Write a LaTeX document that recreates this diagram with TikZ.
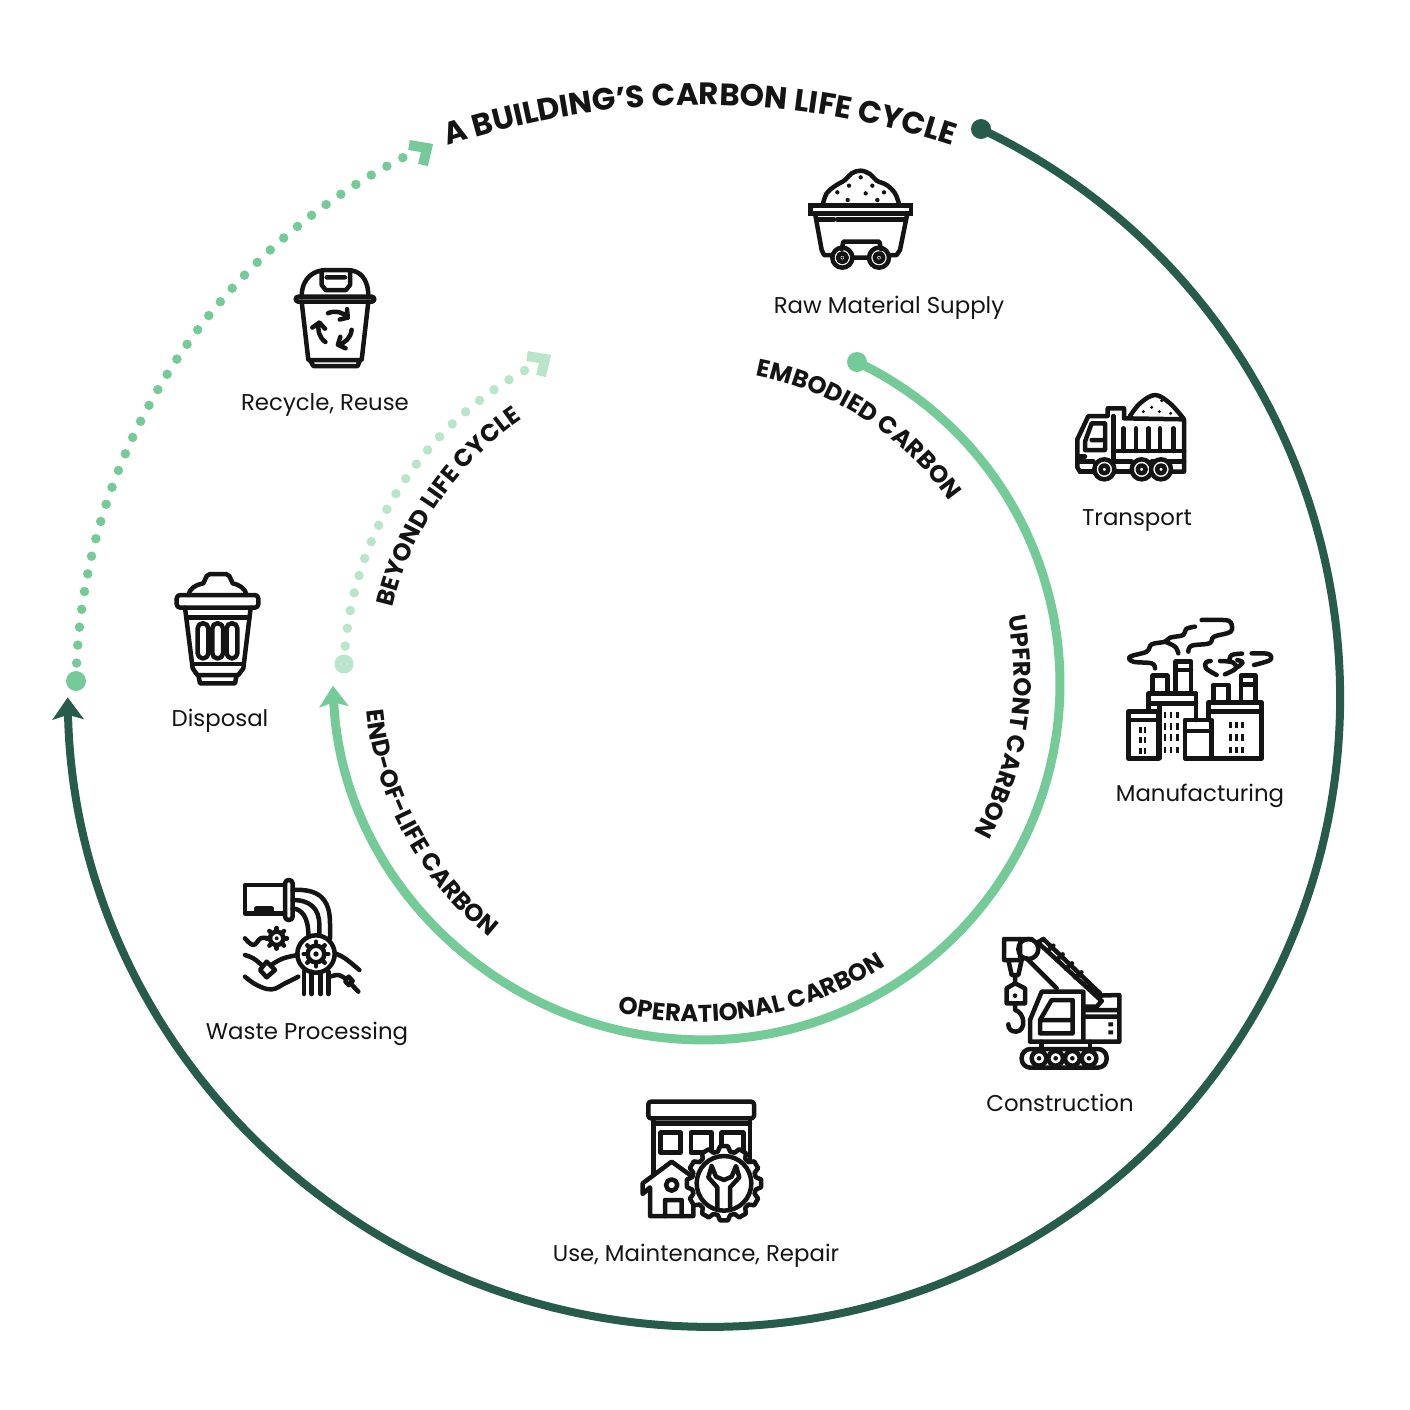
\documentclass[tikz,border=0pt]{standalone}
\usepackage{fontspec}
\setmainfont{Poppins}
\usepackage{tikz}
\usetikzlibrary{arrows.meta,decorations.text}
\definecolor{Rdark}{HTML}{275C4C}
\definecolor{Rmid}{HTML}{74CB98}
\definecolor{Rpale}{HTML}{B9E5CB}
\definecolor{Iline}{HTML}{141414}
\newcommand{\labfont}{\fontsize{13pt}{16pt}\selectfont}
\newcommand{\titlefont}{\fontsize{17.6pt}{20pt}\selectfont\bfseries}
\newcommand{\ringfont}{\fontsize{13.8pt}{16pt}\selectfont\bfseries}
\tikzset{
  lab/.style={inner sep=0pt,text=Iline,font=\labfont},
  icon/.style={shift={#1},scale=1/3,line width=0.09cm,draw=Iline,line join=round,line cap=round},
  speck/.style={fill=Iline,draw=none},
  dots/.style={line width=#1,line cap=round,dash pattern=on 0pt off 0.36cm},
  chevron/.style={line width=0.2cm,line cap=butt,line join=miter},
  curved/.style={decorate,decoration={text along path,text align=center,text color=Iline,text={#1}}}
}
\begin{document}
\begin{tikzpicture}[x=0.02cm,y=-0.02cm]
\useasboundingbox (0,0) rectangle (1410,1410);

% ---- outer run: the whole life cycle ----
\draw[Rdark,line width=0.16cm,-{Stealth[length=0.44cm,width=0.62cm,inset=0.09cm]}]
  (981,129) arc[start angle=-64.55, end angle=90, radius=629.5]
  arc[start angle=90, end angle=178.8, radius=643];
\fill[Rdark] (981,129) circle[radius=10];
\fill[Rmid] (76,681) circle[radius=10];
\draw[Rmid,dots=0.19cm] (76,681) arc[start angle=181.1, end angle=243.1, radius=601];
\draw[Rmid,chevron] (409,145) -- (427,148) -- (423,165);

% ---- inner run ----
\draw[Rmid,line width=0.18cm,-{Stealth[length=0.42cm,width=0.58cm,inset=0.09cm]}]
  (857,362) arc[start angle=-64.5, end angle=90, radius=356.3]
  arc[start angle=90, end angle=177.4, radius=371];
\fill[Rmid] (857,362) circle[radius=10];
\fill[Rpale] (344,664) circle[radius=9.5];
\draw[Rpale,dots=0.19cm] (344,664) arc[start angle=182.3, end angle=241.2, radius=352];
\draw[Rpale,chevron] (527,356) -- (545,359) -- (541,376);

% ---- curved headings ----
\path[curved={|\titlefont|A BUILDING’S CARBON LIFE CYCLE}] (700,905) ++(245:800) arc[start angle=245, end angle=295, radius=800];
\begin{scope}[shift={(697,678)}]
\path[curved={|\ringfont|EMBODIED CARBON}] (262:308) arc[start angle=262, end angle=344, radius=308];
\path[curved={|\ringfont|UPFRONT CARBON}] (-32:317) arc[start angle=-32, end angle=50, radius=317];
\path[curved={|\ringfont|BEYOND LIFE CYCLE}] (174:312) arc[start angle=174, end angle=255, radius=312];
\path[curved={|\ringfont|OPERATIONAL CARBON}] (120:344) arc[start angle=120, end angle=40, radius=344];
\path[curved={|\ringfont|END-OF-LIFE CARBON}] (192:332) arc[start angle=192, end angle=111, radius=332];
\end{scope}

% ---- labels ----
\foreach \n/\x/\y/\l in {raw/889/308/{Raw Material Supply}, transport/1137/521/{Transport},
    manufacturing/1200/796/{Manufacturing}, construction/1060/1103/{Construction},
    use/696/1256/{Use, Maintenance, Repair}, waste/307/1034/{Waste Processing},
    disposal/220/721/{Disposal}, recycle/325/405/{Recycle, Reuse}}{
  \node[lab] (\n) at (\x,\y) {\l};}

% ---- cart ----
\begin{scope}[icon={(780,150)}]
\draw plot[smooth,tension=0.6] coordinates {(128,165) (140,130) (165,108) (195,90) (215,70) (242,62) (270,72) (290,92) (320,105) (345,130) (358,165)};
\draw[line join=miter] (92,167) rectangle (393,190);
\draw (110,208) -- (162,208) (172,208) -- (375,208);
\draw (105,190) -- (125,300) -- (132,315) -- (158,315) (382,190) -- (360,300) -- (350,315) -- (328,315);
\draw (185,298) -- (190,275) -- (298,275) -- (303,298) (218,323) -- (265,323);
\foreach \x in {187,297}{
  \draw (\x,323) circle[radius=30] (\x,323) circle[radius=13];
  \fill[speck] (\x,323) circle[radius=4];}
\foreach \x/\y in {242/82,207/107,277/107,172/127,257/130,312/127,203/150,292/150}{
  \fill[speck] (\x,\y) circle[radius=6.5];}
\end{scope}

% ---- truck ----
\begin{scope}[icon={(1060,380)}]
\draw (60,275) -- (52,262) -- (52,178) -- (85,108) -- (143,108) -- (143,85) -- (192,85) -- (192,115) -- (372,118) -- (372,275) -- (338,275);
\draw (160,108) -- (160,245) (160,213) -- (372,213) (60,245) -- (100,245) (165,245) -- (215,245) (275,245) -- (372,245);
\draw (60,275) -- (100,275) (165,275) -- (215,275);
\draw (115,130) -- (95,130) -- (75,185) -- (75,210) -- (135,210) -- (135,130) -- cycle (95,180) -- (125,180);
\draw (52,230) -- (75,230);
\foreach \x in {190,228,265,300,340}{\draw (\x,145) -- (\x,213);}
\foreach \x in {133,245,303}{\draw[fill=white] (\x,268) circle[radius=30] (\x,268) circle[radius=12];}
\draw plot[smooth,tension=0.6] coordinates {(210,108) (240,70) (285,45) (330,70) (370,115)};
\foreach \x/\y in {250/95,275/82,298/95,332/100,305/62}{\fill[speck] (\x,\y) circle[radius=5];}
\end{scope}

% ---- factory ----
\begin{scope}[icon={(1110,605)}]
\draw (55,320) rectangle (145,460) (55,345) -- (145,345);
\draw (115,320) -- (115,265) -- (258,265) -- (258,345) (115,295) -- (258,295);
\draw (148,295) -- (148,460) (225,345) rectangle (305,460) (225,378) -- (305,378);
\draw (295,345) -- (295,292) -- (455,292) -- (455,460) -- (305,460) (295,320) -- (455,320);
\draw (128,265) -- (128,212) -- (172,212) -- (172,265);
\draw (197,265) -- (197,170) -- (243,170) -- (243,265) (197,195) -- (243,195);
\draw (310,292) -- (310,240) -- (355,240) -- (355,292);
\draw (393,292) -- (393,212) -- (437,212) -- (437,292) (393,238) -- (437,238);
\draw plot[smooth,tension=0.6] coordinates {(135,190) (125,175) (70,170) (60,155) (110,140) (125,118) (165,110) (180,98) (220,90) (228,72) (255,65)};
\draw plot[smooth,tension=0.6] coordinates {(205,145) (195,125) (165,110)};
\draw plot[smooth,tension=0.6] coordinates {(235,140) (245,122) (298,115) (312,95) (362,80) (362,52) (340,45) (275,45)};
\draw plot[smooth,tension=0.6] coordinates {(320,210) (288,190) (288,172) (302,168)};
\draw plot[smooth,tension=0.6] coordinates {(345,208) (378,190) (368,172) (330,168)};
\draw plot[smooth,tension=0.6] coordinates {(358,168) (365,150) (396,146)};
\draw plot[smooth,tension=0.6] coordinates {(385,185) (398,172) (382,165)};
\draw plot[smooth,tension=0.6] coordinates {(425,145) (475,147) (480,165) (432,180)};
\foreach \x/\y in {92/375,105/375,92/405,105/405,92/438,105/438,
    165/330,183/330,203/330,165/365,183/365,203/365,165/398,183/398,203/398,165/435,183/435,203/435,
    362/360,380/360,398/360,362/398,380/398,398/398,362/435,380/435,398/435}{
  \fill[speck] (\x-4,\y-10) rectangle (\x+4,\y+10);}
\end{scope}

% ---- crane ----
\begin{scope}[icon={(990,925)}]
\draw (42,105) -- (42,42) -- (125,42) (42,105) -- (95,105) -- (85,150) -- (65,150) -- (55,105);
\draw (90,42) -- (90,105) (115,72) circle[radius=30];
\draw (143,52) -- (335,228) (110,100) -- (200,190) (160,42) -- (330,205);
\draw (143,52) -- (160,42) (172,78) -- (190,62) (200,105) -- (218,88) (228,132) -- (246,115) (256,158) -- (274,142);
\draw (75,150) -- (75,175) (50,190) -- (75,175) -- (105,190) -- (105,235) -- (50,235) -- cycle;
\fill[speck] (75,212) circle[radius=7];
\draw (75,235) -- (75,255) .. controls (105,262) and (110,318) .. (78,320) .. controls (62,320) and (55,310) .. (55,298);
\draw (120,345) -- (120,285) -- (155,200) -- (280,200) -- (280,345);
\draw (185,225) -- (248,225) -- (248,325) -- (150,325) -- (150,285) -- cycle (150,285) -- (248,285);
\draw (320,212) -- (388,210) -- (388,350) -- (120,350) (280,245) -- (320,245) (280,255) -- (388,255) (280,275) -- (388,275) (335,228) -- (320,245);
\fill[speck] (355,292) rectangle (369,304) (355,316) rectangle (369,328);
\draw (155,350) -- (155,372) (300,350) -- (300,372);
\draw[rounded corners=5pt] (95,372) rectangle (350,428);
\foreach \x in {147,197,247,297}{
  \draw (\x,400) circle[radius=22];
  \fill[speck] (\x,400) circle[radius=7];}
\end{scope}

% ---- building and gear ----
\begin{scope}[icon={(630,1090)}]
\draw[rounded corners=1.5pt] (55,35) rectangle (372,85);
\draw (70,85) -- (70,250) (360,85) -- (360,210) (70,100) -- (360,100);
\draw (92,128) rectangle (152,188) (183,128) rectangle (245,188) (275,128) rectangle (340,188);
\draw[fill=white] (38,312) -- (38,280) -- (125,215) -- (190,262) -- (190,378) -- (60,378) -- (60,292) -- cycle;
\draw (125,285) circle[radius=17] (105,378) -- (105,330) -- (155,330) -- (155,378);
\draw[fill=white] (282,280) ++(6:112)
  \foreach \a in {0,30,...,330}{ -- ({282+112*cos(\a+6)},{280+112*sin(\a+6)}) -- ({282+97*cos(\a+11)},{280+97*sin(\a+11)}) -- ({282+97*cos(\a+19)},{280+97*sin(\a+19)}) -- ({282+112*cos(\a+24)},{280+112*sin(\a+24)}) } -- cycle;
\draw (282,280) circle[radius=82];
\draw (245,228) -- (235,262) -- (262,292) -- (262,360) (300,360) -- (300,292) -- (328,262) -- (318,228) -- (305,260) -- (282,270) -- (258,260) -- (245,228);
\end{scope}

% ---- waste plant ----
\begin{scope}[icon={(230,870)}]
\draw (165,45) -- (45,45) -- (45,130) -- (165,130) (80,130) -- (80,115) -- (125,115) -- (125,130);
\draw[rounded corners=2pt] (165,30) rectangle (188,150);
\draw (188,60) .. controls (270,55) and (300,90) .. (300,160) -- (300,205);
\draw (188,90) .. controls (240,90) and (268,115) .. (268,165) -- (268,195);
\draw (188,115) .. controls (215,118) and (235,140) .. (235,195);
\draw (258,252) circle[radius=56];
\draw (258,252) circle[radius=25];
\fill[speck] (258,252) circle[radius=8];
\foreach \a in {0,45,...,315}{\draw (258,252) ++(\a:25) -- ++(\a:12);
  \draw (140,205) ++(\a:20) -- ++(\a:11);}
\draw (140,205) circle[radius=20];
\fill[speck] (140,205) circle[radius=6];
\draw (222,305) -- (222,372) (245,305) -- (245,372) (272,308) -- (272,372) (295,305) -- (295,372);
\draw plot[smooth,tension=0.7] coordinates {(45,205) (70,225) (92,205) (115,205)};
\draw plot[smooth,tension=0.7] coordinates {(45,255) (70,265) (95,285)};
\draw plot[smooth,tension=0.7] coordinates {(128,282) (160,265) (203,255)};
\draw (90,300) -- (110,275) -- (135,300) -- (110,322) -- cycle;
\draw plot[smooth,tension=0.7] coordinates {(45,320) (80,345) (125,358) (165,340) (205,320)};
\draw plot[smooth,tension=0.7] coordinates {(315,250) (345,265) (388,300)};
\draw plot[smooth,tension=0.7] coordinates {(300,320) (325,315) (345,325)};
\draw (345,333) -- (356,320) -- (368,333) -- (356,345) -- cycle (366,345) -- (385,365);
\end{scope}

% ---- dust bin ----
\begin{scope}[icon={(160,560)}]
\draw[rounded corners=2pt] (50,105) rectangle (295,143);
\draw (85,105) .. controls (90,85) and (105,75) .. (130,70) -- (140,48) -- (150,42) -- (198,42) -- (208,48) -- (218,70) .. controls (240,75) and (255,85) .. (260,105);
\draw (75,143) -- (98,325) -- (112,345) -- (235,345) -- (250,325) -- (272,143);
\draw (80,172) -- (268,172) (100,312) -- (245,312);
\draw (115,345) -- (120,370) -- (225,370) -- (230,345);
\foreach \x in {113,157,200}{\draw[rounded corners=2.8pt] (\x,190) rectangle (\x+32,295);}
\end{scope}

% ---- recycle bin ----
\begin{scope}[icon={(285,260)}]
\draw (50,110) .. controls (50,55) and (85,30) .. (125,30) -- (185,30) .. controls (225,30) and (250,55) .. (250,110);
\draw (110,35) -- (110,75) -- (122,90) -- (183,90) -- (195,75) -- (195,35) (125,52) -- (180,52);
\draw[rounded corners=1.5pt] (32,110) rectangle (268,125);
\draw (50,125) -- (70,300) -- (230,300) -- (250,125) (75,300) -- (85,318) -- (218,318) -- (225,300);
\foreach \a in {0,120,240}{
  \draw (150,205) ++(\a-115:50) arc[start angle=\a-115, end angle=\a-40, radius=50];
  \draw ({150+68*cos(\a-58)},{205+68*sin(\a-58)}) -- ({150+50*cos(\a-40)},{205+50*sin(\a-40)}) -- ({150+30*cos(\a-62)},{205+30*sin(\a-62)});}
\end{scope}
\end{tikzpicture}
\end{document}
